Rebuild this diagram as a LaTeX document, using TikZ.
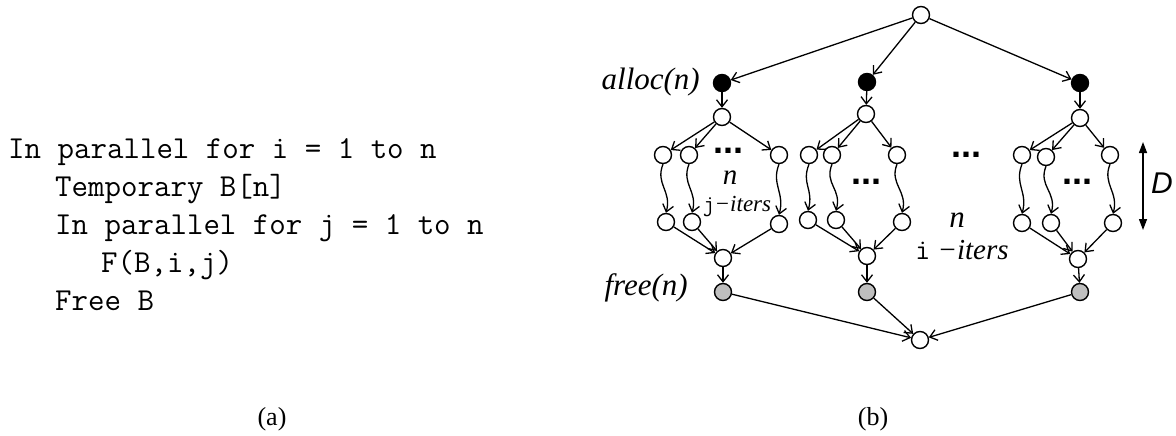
\documentclass[tikz,border=0pt]{standalone}
\usepackage{fontspec}
\setmainfont{Liberation Serif}
\newfontfamily\helvfont{Liberation Sans}
\usetikzlibrary{arrows.meta}
\begin{document}
\begin{tikzpicture}[x=1pt,y=-1pt,
  v/.style={circle,draw,line width=1.4pt,minimum size=17pt,inner sep=0pt,fill=white},
  blk/.style={v,fill=black},
  gry/.style={v,fill=black!25},
  e/.style={line width=1.3pt,-{Straight Barb[length=7pt,width=11pt,line width=1.3pt]}},
  code/.style={anchor=base west,inner sep=0pt,font=\ttfamily\fontsize{32}{32}\selectfont},
  lbl/.style={inner sep=0pt,font=\itshape\fontsize{31}{31}\selectfont},
  dotsn/.style={anchor=base,inner sep=0pt,text depth=0pt,text height=6pt,font=\helvfont\bfseries\fontsize{36}{36}\selectfont},
  capt/.style={inner sep=0pt,font=\fontsize{26}{26}\selectfont}
]
\useasboundingbox (0,0) rectangle (1176,436);

% code
\node[code] (c1) at (8,158) {In parallel for i = 1 to n};
\node[code] (c2) at (55,196) {Temporary B[n]};
\node[code] (c3) at (55,234) {In parallel for j = 1 to n};
\node[code] (c4) at (101,272) {F(B,i,j)};
\node[code] (c5) at (55,310) {Free B};

% nodes
\node[v] (top) at (921,15) {};
\node[blk] (aL) at (722,83) {};
\node[blk] (aM) at (867,82) {};
\node[blk] (aR) at (1080,83) {};
\node[v] (fL) at (722,117) {};
\node[v] (fM) at (866,114) {};
\node[v] (fR) at (1080,118) {};

\node[v] (L1a) at (663,155) {};
\node[v] (L1b) at (689,155) {};
\node[v] (L1c) at (779,155) {};
\node[v] (L2a) at (666,222) {};
\node[v] (L2b) at (692,222) {};
\node[v] (L2c) at (779,224) {};

\node[v] (M1a) at (809,155) {};
\node[v] (M1b) at (832,155) {};
\node[v] (M1c) at (897,155) {};
\node[v] (M2a) at (808,220) {};
\node[v] (M2b) at (836,220) {};
\node[v] (M2c) at (902,222) {};

\node[v] (R1a) at (1022,155) {};
\node[v] (R1b) at (1046,157) {};
\node[v] (R1c) at (1110,155) {};
\node[v] (R2a) at (1022,223) {};
\node[v] (R2b) at (1051,223) {};
\node[v] (R2c) at (1113,223) {};

\node[v] (jL) at (723,258) {};
\node[v] (jM) at (867,256) {};
\node[v] (jR) at (1078,259) {};
\node[gry] (gL) at (723,292) {};
\node[gry] (gM) at (867,292) {};
\node[gry] (gR) at (1080,292) {};
\node[v] (bot) at (920,340) {};

% edges
\draw[e] (top) -- (aL);
\draw[e] (top) -- (aM);
\draw[e] (top) -- (aR);
\foreach \g in {L,M,R}{
  \draw[e] (a\g) -- (f\g);
  \draw[e] (f\g) -- (\g1a);
  \draw[e] (f\g) -- (\g1b);
  \draw[e] (f\g) -- (\g1c);
  \draw[e] (\g1a.south) .. controls +(-8,20) and +(6,-22) .. (\g2a.north);
  \draw[e] (\g1b.south) .. controls +(-8,20) and +(6,-22) .. (\g2b.north);
  \draw[e] (\g1c.south) .. controls +(-8,20) and +(6,-22) .. (\g2c.north);
  \draw[e] (\g2a) -- (j\g);
  \draw[e] (\g2b) -- (j\g);
  \draw[e] (\g2c) -- (j\g);
  \draw[e] (j\g) -- (g\g);
  \draw[e] (g\g) -- (bot);
}

% labels
\node[lbl,anchor=base east] (alloc) at (700,89) {alloc(n)};
\node[lbl,anchor=base east] (free) at (688,295) {free(n)};

\node[dotsn] (d1) at (728,153) {...};
\node[dotsn] (d2) at (966,157) {...};
\node[dotsn] (d3) at (866,184) {...};
\node[dotsn] (d4) at (1077,184) {...};

\node[inner sep=0pt,anchor=base,font=\itshape\fontsize{29}{29}\selectfont] (nL) at (730,184) {n};
\node[inner sep=0pt,anchor=base,font=\fontsize{23}{23}\selectfont] (itL) at (737,211) {{\ttfamily j}\textit{−iters}};
\node[inner sep=0pt,anchor=base,font=\itshape\fontsize{31}{31}\selectfont] (nM) at (957,227) {n};
\node[inner sep=0pt,anchor=base,font=\fontsize{29}{29}\selectfont] (itM) at (962,259) {{\ttfamily i} \textit{−iters}};

% D arrow
\coordinate (dt) at (1143,142);
\coordinate (db) at (1143,230);
\draw[line width=1.3pt,{Triangle[length=11pt,width=8pt]}-{Triangle[length=11pt,width=8pt]}] (dt) -- (db);
\node[inner sep=0pt,font=\helvfont\itshape\fontsize{30}{30}\selectfont] (D) at (1162,183) {D};

% captions
\node[capt,anchor=base] (ca) at (272,425) {(a)};
\node[capt,anchor=base] (cb) at (873,425) {(b)};
\end{tikzpicture}
\end{document}
